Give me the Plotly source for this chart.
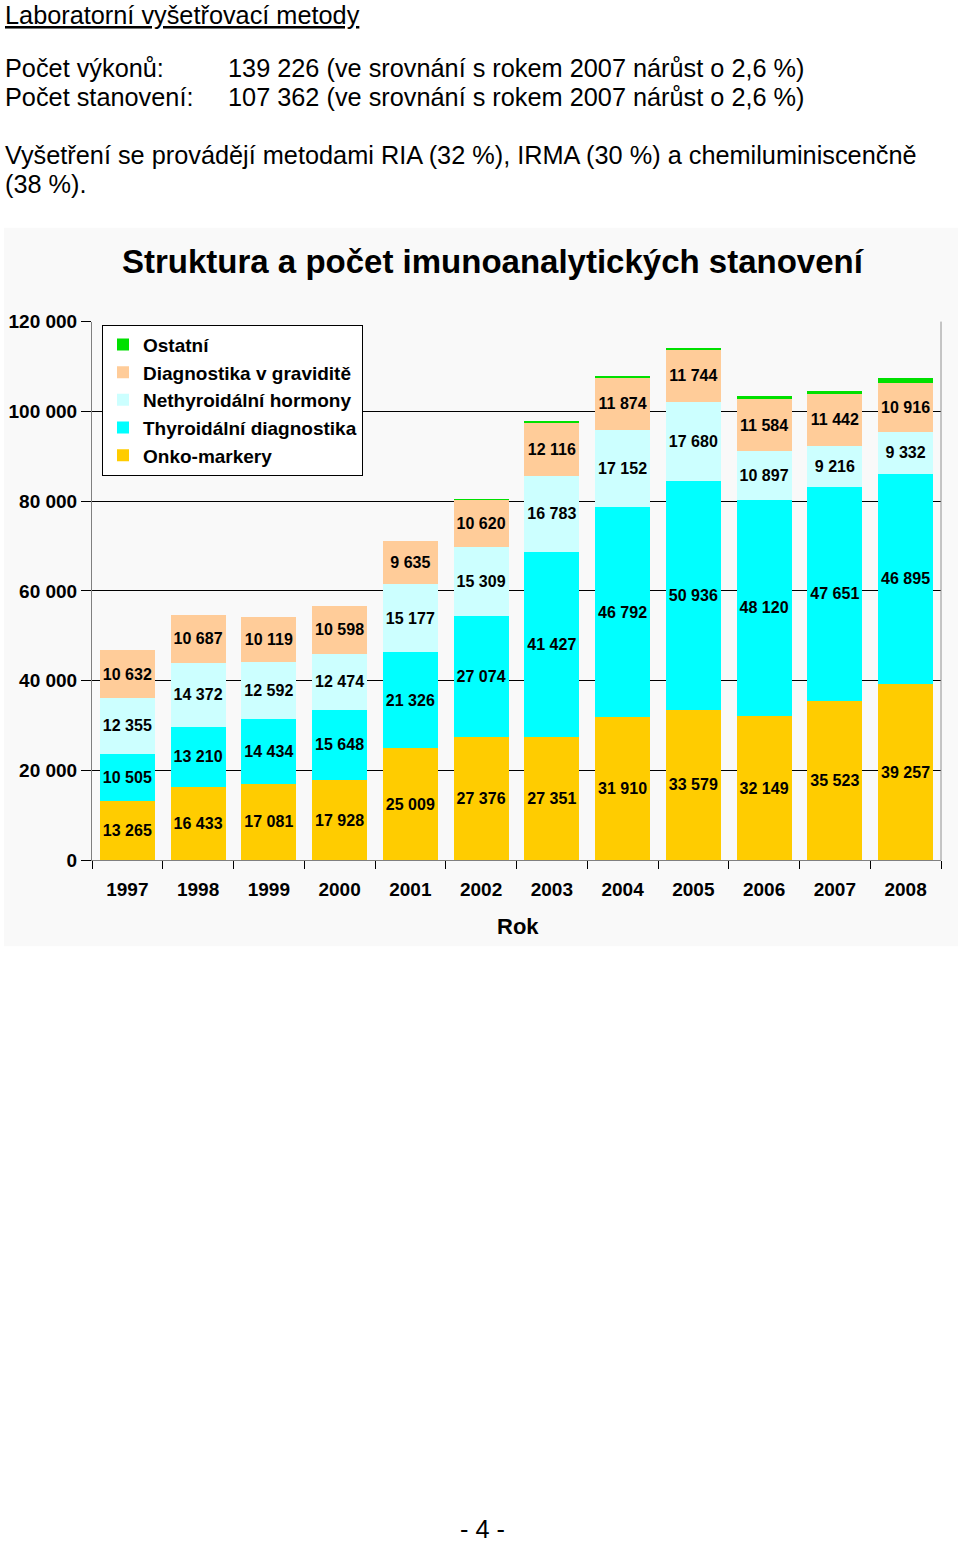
import plotly.graph_objects as go

W, H = 960, 1543

years = ["1997", "1998", "1999", "2000", "2001", "2002", "2003", "2004", "2005", "2006", "2007", "2008"]
onko = [13265, 16433, 17081, 17928, 25009, 27376, 27351, 31910, 33579, 32149, 35523, 39257]
thyro = [10505, 13210, 14434, 15648, 21326, 27074, 41427, 46792, 50936, 48120, 47651, 46895]
nethyro = [12355, 14372, 12592, 12474, 15177, 15309, 16783, 17152, 17680, 10897, 9216, 9332]
gravid = [10632, 10687, 10119, 10598, 9635, 10620, 12116, 11874, 11744, 11584, 11442, 10916]
ostatni = [0, 0, 0, 0, 0, 120, 150, 200, 250, 700, 809, 962]

series_names = ["Onko-markery", "Thyroidální diagnostika", "Nethyroidální hormony",
                "Diagnostika v graviditě", "Ostatní"]
series_vals = [onko, thyro, nethyro, gravid, ostatni]
series_colors = ["#FFCC00", "#00FFFF", "#CCFFFF", "#FFCC99", "#00E000"]
legend_ranks = [5, 4, 3, 2, 1]

FONT = "Liberation Sans, Arial, sans-serif"

# the page is shown slightly squeezed vertically; compensate positions
Y_OFF, Y_SCALE = 9.2, 0.987


def px(x):
    return x / W


def py(y):
    return 1 - ((y - Y_OFF) / Y_SCALE) / H


fig = go.Figure()
for name, vals, col, rank in zip(series_names, series_vals, series_colors, legend_ranks):
    show_text = name != "Ostatní"
    fig.add_trace(go.Bar(
        x=years, y=vals, name=name,
        marker=dict(color=col, line=dict(width=0)),
        texttemplate="%{y:,}" if show_text else None,
        textposition="inside" if show_text else "none",
        insidetextanchor="middle",
        textangle=0,
        constraintext="none",
        textfont=dict(family=FONT, size=16, color="black", weight="bold"),
        legendrank=rank,
    ))

fig.update_layout(
    width=W, height=H,
    margin=dict(l=0, r=0, t=0, b=0),
    paper_bgcolor="white",
    plot_bgcolor="#C0C0C0",
    barmode="stack",
    bargap=0.22,
    separators=", ",
    uniformtext=dict(minsize=16, mode="show"),
    font=dict(family=FONT, color="black"),
    showlegend=True,
    legend=dict(
        x=px(102), y=py(324), xanchor="left", yanchor="top",
        bgcolor="white", bordercolor="black", borderwidth=1,
        font=dict(family=FONT, size=19, color="black", weight="bold"),
        traceorder="normal", itemwidth=30,
    ),
    xaxis=dict(
        domain=[px(92), px(941)],
        type="category",
        showgrid=False,
        showline=True, linecolor="#808080", linewidth=1,
        ticks="outside", tickson="boundaries", ticklen=8, tickcolor="black",
        tickfont=dict(family=FONT, size=19, color="black", weight="bold"),
        ticklabelstandoff=12,
    ),
    yaxis=dict(
        domain=[py(860), py(321)],
        range=[0, 120000], dtick=20000,
        tickformat=",",
        showgrid=True, gridcolor="#000000", gridwidth=1,
        showline=True, linecolor="#808080", linewidth=1,
        ticks="outside", ticklen=10, tickcolor="black",
        tickfont=dict(family=FONT, size=19, color="black", weight="bold"),
        zeroline=False,
    ),
    shapes=[
        dict(type="rect", xref="paper", yref="paper", x0=px(4), x1=px(958), y0=py(946), y1=py(227),
             fillcolor="#F9F9F9", line=dict(width=0), layer="below"),
        dict(type="line", xref="paper", yref="paper", x0=px(941), x1=px(941), y0=py(860), y1=py(321),
             line=dict(color="#909090", width=1)),
    ],
)

annotations = [
    dict(text="<u>Laboratorní vyšetřovací metody</u>", x=px(3), y=py(14), anchor="left"),
    dict(text="Počet výkonů:", x=px(3), y=py(67), anchor="left"),
    dict(text="139 226 (ve srovnání s rokem 2007 nárůst o 2,6 %)", x=px(226), y=py(67), anchor="left"),
    dict(text="Počet stanovení:", x=px(3), y=py(96), anchor="left"),
    dict(text="107 362 (ve srovnání s rokem 2007 nárůst o 2,6 %)", x=px(226), y=py(96), anchor="left"),
    dict(text="Vyšetření se provádějí metodami RIA (32 %), IRMA (30 %) a chemiluminiscenčně", x=px(3), y=py(154), anchor="left"),
    dict(text="(38 %).", x=px(3), y=py(183), anchor="left"),
    dict(text="- 4 -", x=px(482), y=py(1529), anchor="center"),
]
for a in annotations:
    fig.add_annotation(
        text=a["text"], xref="paper", yref="paper", x=a["x"], y=a["y"],
        xanchor=a["anchor"], yanchor="middle", showarrow=False,
        font=dict(family=FONT, size=25.3, color="black"),
    )

fig.add_annotation(
    text="Struktura a počet imunoanalytických stanovení", xref="paper", yref="paper",
    x=px(494), y=py(261), xanchor="center", yanchor="middle", showarrow=False,
    font=dict(family=FONT, size=33, color="black", weight="bold"),
)
fig.add_annotation(
    text="Rok", xref="paper", yref="paper",
    x=px(518), y=py(926), xanchor="center", yanchor="middle", showarrow=False,
    font=dict(family=FONT, size=22, color="black", weight="bold"),
)

fig.write_html(
    "out.html",
    config={"displayModeBar": False},
    post_script="document.documentElement.style.margin='0';document.body.style.margin='0';document.body.style.padding='0';document.body.style.overflow='hidden';",
)
